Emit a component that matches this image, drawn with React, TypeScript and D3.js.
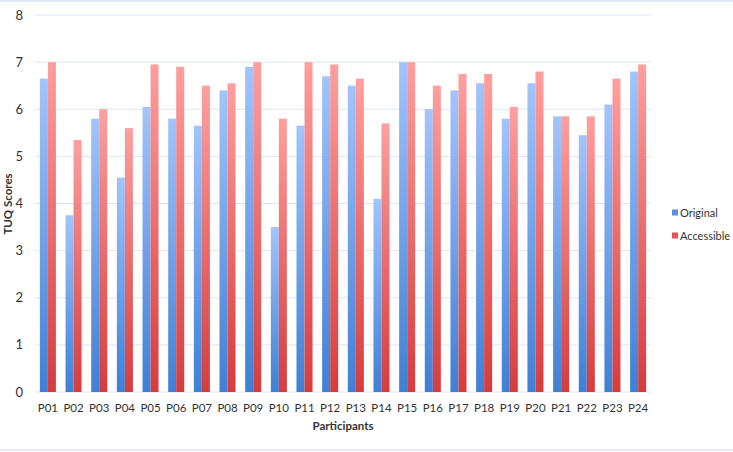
import * as d3 from "d3";

const participants = ["P01","P02","P03","P04","P05","P06","P07","P08","P09","P10","P11","P12","P13","P14","P15","P16","P17","P18","P19","P20","P21","P22","P23","P24"];
const original = [6.65,3.75,5.8,4.55,6.05,5.8,5.65,6.4,6.9,3.5,5.65,6.7,6.5,4.1,7.0,6.0,6.4,6.55,5.8,6.55,5.85,5.45,6.1,6.8];
const accessible = [7.0,5.35,6.0,5.6,6.95,6.9,6.5,6.55,7.0,5.8,7.0,6.95,6.65,5.7,7.0,6.5,6.75,6.75,6.05,6.8,5.85,5.85,6.65,6.95];
const yTicks = [0,1,2,3,4,5,6,7,8];
const seriesNames = ["Original", "Accessible"];

const width = 733, height = 452;
const left = 35, right = 651, top = 15, bottom = 392;
const font = "Lato, Carlito, 'Open Sans', 'Liberation Sans', sans-serif";

export default function App() {
  const x = d3.scaleBand().domain(participants).range([left, right]).paddingInner(0.375).paddingOuter(0.19);
  const sub = d3.scaleBand().domain(seriesNames).range([0, x.bandwidth()]);
  const y = d3.scaleLinear().domain([0, 8]).range([bottom, top]);
  const series = [original, accessible];
  const fills = ["url(#gBlue)", "url(#gRed)"];

  return (
    <svg width={width} height={height} style={{ position: "absolute", left: 0, top: 0 }} fontFamily={font}>
      <defs>
        <linearGradient id="gBlue" x1="0" y1="0" x2="0" y2="1">
          <stop offset="0" stopColor="#a3c4fb" />
          <stop offset="1" stopColor="#3f7fd6" />
        </linearGradient>
        <linearGradient id="gRed" x1="0" y1="0" x2="0" y2="1">
          <stop offset="0" stopColor="#ff9f9f" />
          <stop offset="1" stopColor="#d63c3c" />
        </linearGradient>
      </defs>
      <rect x={0} y={0} width={width} height={height} fill="#ffffff" />
      <line x1={0} x2={width} y1={1} y2={1} stroke="#dfeaf6" strokeWidth={2} />
      <line x1={0} x2={width} y1={450} y2={450} stroke="#dfeaf6" strokeWidth={2} />
      {yTicks.map((t) => (
        <g key={t}>
          <line x1={left} x2={right} y1={y(t)} y2={y(t)} stroke="#dce7f5" strokeWidth={1} />
          <text x={23} y={y(t)} dy="0.35em" textAnchor="end" fontSize={13} fill="#333">{t}</text>
        </g>
      ))}
      {participants.map((p, i) => (
        <g key={p}>
          {series.map((s, j) => (
            <rect key={j} x={(x(p) ?? 0) + (sub(seriesNames[j]) ?? 0)} y={y(s[i])}
              width={sub.bandwidth()} height={bottom - y(s[i])} fill={fills[j]} />
          ))}
          <text x={(x(p) ?? 0) + x.bandwidth() / 2} y={412} textAnchor="middle" fontSize={11.5} fill="#333">{p}</text>
        </g>
      ))}
      <text transform="translate(12,204) rotate(-90)" textAnchor="middle" fontSize={11.5} fontWeight="bold" fill="#333">TUQ Scores</text>
      <text x={(left + right) / 2} y={430} textAnchor="middle" fontSize={11.5} fontWeight="bold" fill="#333">Participants</text>
      {seriesNames.map((n, j) => (
        <g key={n} transform={`translate(672,${213 + j * 23})`}>
          <rect x={0} y={-3.5} width={6} height={6} fill={j === 0 ? "#5b8fe0" : "#e05555"} />
          <text x={8} y={0} dy="0.35em" fontSize={11} fill="#333">{n}</text>
        </g>
      ))}
    </svg>
  );
}
